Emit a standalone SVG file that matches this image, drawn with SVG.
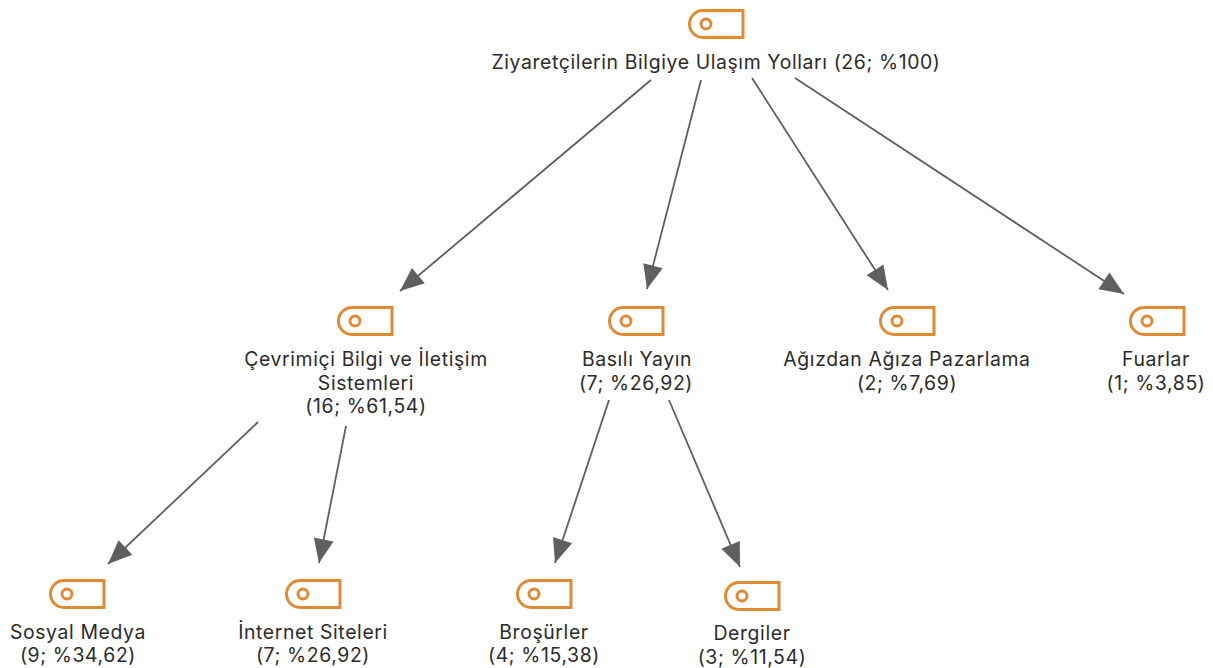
<svg xmlns="http://www.w3.org/2000/svg" width="1213" height="668" viewBox="0 0 1213 668">
<style>
text{font-family:"Inter","Open Sans","Liberation Sans",sans-serif;font-size:19.4px;letter-spacing:.62px;fill:#2b2b2b;text-anchor:middle}
.c{stroke:#5f5f5f;stroke-width:1.8;fill:none;marker-end:url(#a)}
.i{fill:none;stroke:#df8a34;stroke-width:3}
</style>
<defs>
<marker id="a" markerUnits="userSpaceOnUse" markerWidth="26" markerHeight="24" refX="25" refY="12" orient="auto"><path d="M1,2 L25,12 L1,22 Z" fill="#5f5f5f"/></marker>
<g id="t"><path class="i" d="M55,1.5 H15 a13.5,13.5 0 0 0 0,27 H55 Z"/><circle class="i" cx="18" cy="15" r="5"/></g>
</defs>
<rect width="1213" height="668" fill="#fff"/>
<g id="connectors">
<path class="c" d="M651,80 L400,291"/>
<path class="c" d="M701,80 L647,289"/>
<path class="c" d="M752,78 L888,290"/>
<path class="c" d="M795,78 L1124,294"/>
<path class="c" d="M258,422 L108,564"/>
<path class="c" d="M346,426 L319,563"/>
<path class="c" d="M609,400 L555,563"/>
<path class="c" d="M669,400 L740,567"/>
</g>
<g id="n0"><use href="#t" x="688" y="9"/><text x="716" y="68.5">Ziyaretçilerin Bilgiye Ulaşım Yolları (26; %100)</text></g>
<g id="n1"><use href="#t" x="337" y="306"/><text x="366" y="366">Çevrimiçi Bilgi ve İletişim<tspan x="366" dy="23.7">Sistemleri</tspan><tspan x="366" dy="23.7">(16; %61,54)</tspan></text></g>
<g id="n2"><use href="#t" x="608" y="306"/><text x="637" y="366">Basılı Yayın<tspan x="636" dy="23.7">(7; %26,92)</tspan></text></g>
<g id="n3"><use href="#t" x="879" y="306"/><text x="907" y="366">Ağızdan Ağıza Pazarlama<tspan x="907" dy="23.7">(2; %7,69)</tspan></text></g>
<g id="n4"><use href="#t" x="1129" y="306"/><text x="1156" y="366">Fuarlar<tspan x="1156" dy="23.7">(1; %3,85)</tspan></text></g>
<g id="n5"><use href="#t" x="49" y="579"/><text x="78" y="638.5">Sosyal Medya<tspan x="78" dy="23.7">(9; %34,62)</tspan></text></g>
<g id="n6"><use href="#t" x="285" y="579"/><text x="313" y="638.5">İnternet Siteleri<tspan x="313" dy="23.7">(7; %26,92)</tspan></text></g>
<g id="n7"><use href="#t" x="516" y="579"/><text x="544" y="638.5">Broşürler<tspan x="544" dy="23.7">(4; %15,38)</tspan></text></g>
<g id="n8"><use href="#t" x="724" y="581"/><text x="752" y="640">Dergiler<tspan x="752" dy="23.7">(3; %11,54)</tspan></text></g>
</svg>
